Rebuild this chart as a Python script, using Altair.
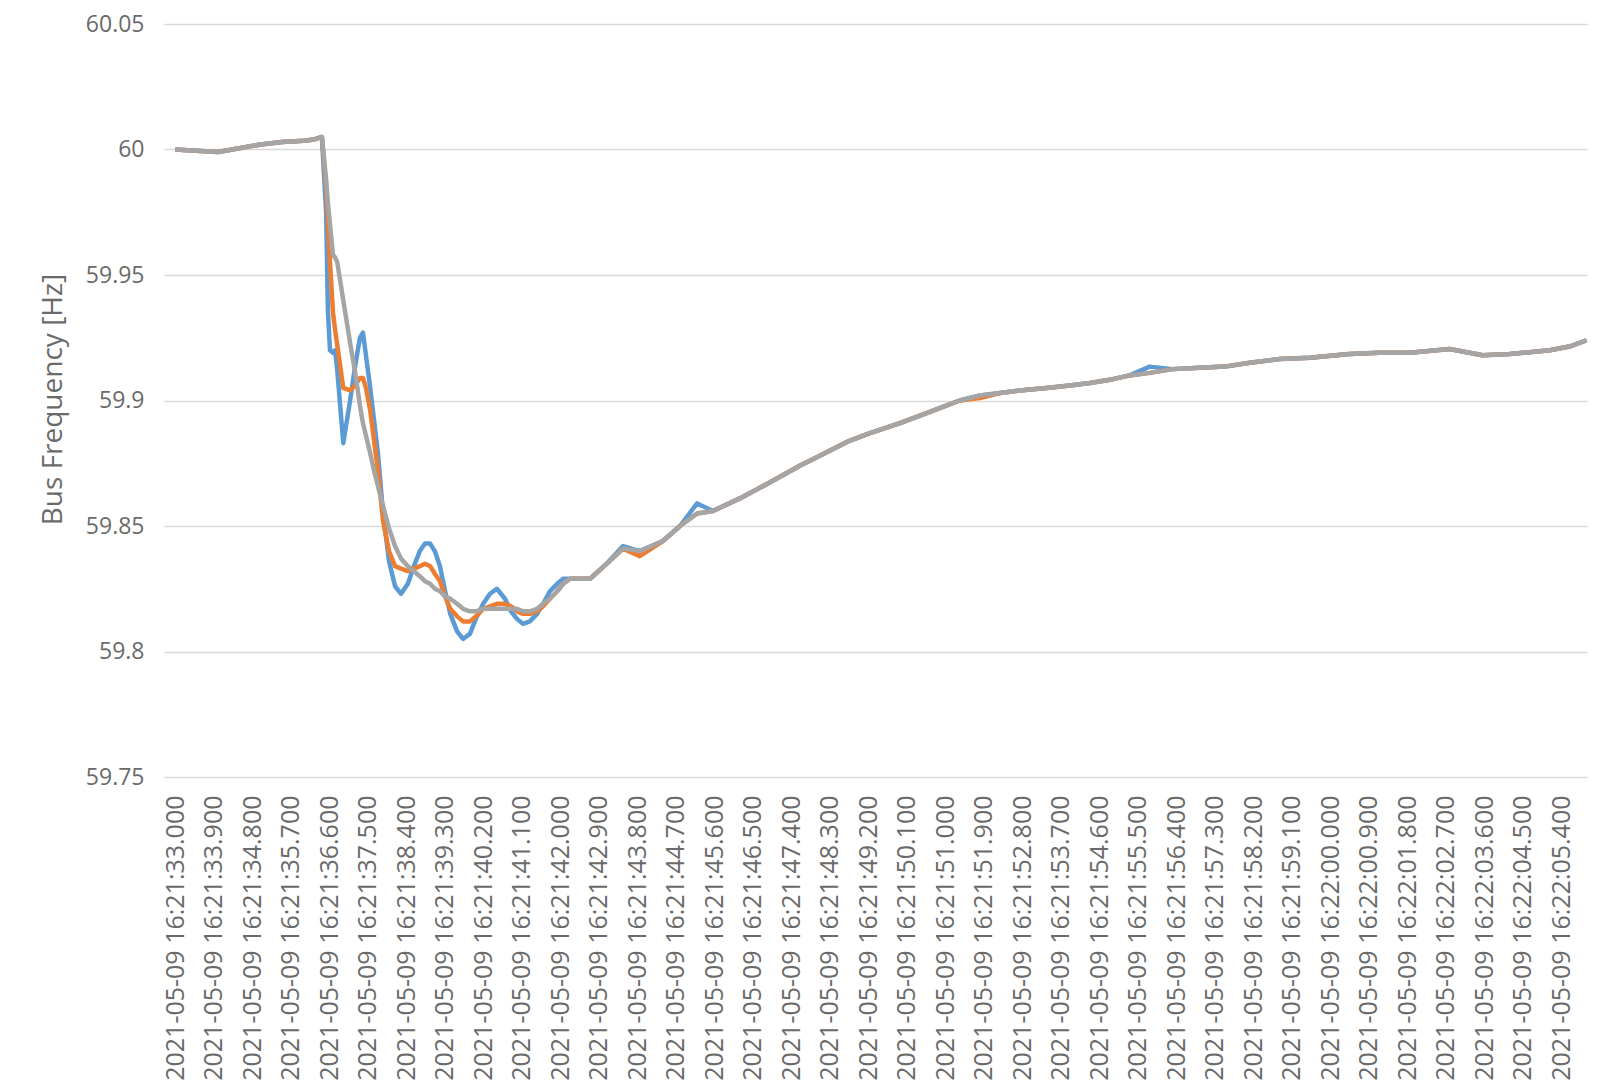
import altair as alt
import pandas as pd

# seconds after 2021-05-09 16:21:33.000
t = [0, 0.5, 1.0, 1.5, 2.0, 2.5, 3.0, 3.25, 3.43,
     3.53, 3.57, 3.62, 3.69, 3.74, 3.79, 3.93, 4.09, 4.21, 4.32,
     4.39, 4.46, 4.56, 4.65, 4.74, 4.86, 5.00, 5.14, 5.28, 5.44,
     5.58, 5.72, 5.84, 5.96, 6.07, 6.19, 6.31, 6.43, 6.59, 6.73,
     6.89, 7.03, 7.20, 7.36, 7.52, 7.71, 7.85, 7.99, 8.13, 8.29,
     8.46, 8.60, 8.76, 8.93, 9.07,
     9.23, 9.70, 10.09, 10.47, 10.86, 11.40, 11.80, 12.20, 12.57, 13.20,
     13.97, 14.60, 15.07, 15.70, 16.24, 16.94, 17.41, 17.87, 18.34, 18.81,
     19.28, 19.74, 20.37, 20.91, 21.38, 21.92, 22.31, 22.78, 23.32, 23.95,
     24.53, 25.12, 25.82, 26.52, 27.45, 28.15, 28.86, 29.79, 30.56, 31.19,
     32.13, 32.59, 32.99]

gray = [60.0, 59.9995, 59.999, 60.0005, 60.002, 60.003, 60.0035, 60.004, 60.005,
        59.988, 59.979, 59.970, 59.958, 59.957, 59.955, 59.940, 59.923, 59.911, 59.898,
        59.891, 59.886, 59.879, 59.872, 59.866, 59.858, 59.849, 59.842, 59.837, 59.834,
        59.832, 59.830, 59.828, 59.827, 59.825, 59.824, 59.822, 59.821, 59.819, 59.817,
        59.816, 59.816, 59.817, 59.817, 59.817, 59.817, 59.817, 59.817, 59.816, 59.816,
        59.817, 59.819, 59.821, 59.824, 59.827,
        59.829, 59.829, 59.835, 59.841, 59.840, 59.844, 59.850, 59.855, 59.856, 59.861,
        59.868, 59.874, 59.878, 59.8835, 59.887, 59.891, 59.894, 59.897, 59.900, 59.902,
        59.903, 59.904, 59.905, 59.906, 59.907, 59.9085, 59.910, 59.911, 59.9125, 59.913,
        59.9135, 59.915, 59.9165, 59.917, 59.9185, 59.919, 59.919, 59.9205, 59.918, 59.9185,
        59.920, 59.9215, 59.924]

orange = [60.0, 59.9995, 59.999, 60.0005, 60.002, 60.003, 60.0035, 60.004, 60.005,
          59.985, 59.971, 59.955, 59.935, 59.928, 59.922, 59.905, 59.904, 59.906, 59.909,
          59.909, 59.905, 59.896, 59.884, 59.872, 59.852, 59.840, 59.834, 59.833, 59.832,
          59.833, 59.834, 59.835, 59.834, 59.831, 59.828, 59.822, 59.817, 59.814, 59.812,
          59.812, 59.814, 59.817, 59.818, 59.819, 59.819, 59.818, 59.816, 59.815, 59.815,
          59.816, 59.818, 59.821, 59.824, 59.827,
          59.829, 59.829, 59.835, 59.841, 59.838, 59.844, 59.850, 59.855, 59.856, 59.861,
          59.868, 59.874, 59.878, 59.8835, 59.887, 59.891, 59.894, 59.897, 59.900, 59.901,
          59.903, 59.904, 59.905, 59.906, 59.907, 59.9085, 59.910, 59.911, 59.9125, 59.913,
          59.9135, 59.915, 59.9165, 59.917, 59.9185, 59.919, 59.919, 59.9205, 59.918, 59.9185,
          59.920, 59.9215, 59.924]

blue = [60.0, 59.9995, 59.999, 60.0005, 60.002, 60.003, 60.0035, 60.004, 60.005,
        59.975, 59.936, 59.920, 59.919, 59.920, 59.912, 59.883, 59.900, 59.914, 59.925,
        59.927, 59.918, 59.905, 59.892, 59.879, 59.855, 59.836, 59.826, 59.823, 59.827,
        59.834, 59.840, 59.843, 59.843, 59.840, 59.834, 59.824, 59.815, 59.808, 59.805,
        59.807, 59.813, 59.819, 59.823, 59.825, 59.821, 59.816, 59.813, 59.811, 59.812,
        59.815, 59.819, 59.824, 59.827, 59.829,
        59.829, 59.829, 59.835, 59.842, 59.840, 59.844, 59.850, 59.859, 59.856, 59.861,
        59.868, 59.874, 59.878, 59.8835, 59.887, 59.891, 59.894, 59.897, 59.900, 59.902,
        59.903, 59.904, 59.905, 59.906, 59.907, 59.9085, 59.910, 59.9135, 59.9125, 59.913,
        59.9135, 59.915, 59.9165, 59.917, 59.9185, 59.919, 59.919, 59.9205, 59.918, 59.9185,
        59.920, 59.9215, 59.924]

tick_labels = [
    "2021-05-09 16:21:33.000", "2021-05-09 16:21:33.900", "2021-05-09 16:21:34.800",
    "2021-05-09 16:21:35.700", "2021-05-09 16:21:36.600", "2021-05-09 16:21:37.500",
    "2021-05-09 16:21:38.400", "2021-05-09 16:21:39.300", "2021-05-09 16:21:40.200",
    "2021-05-09 16:21:41.100", "2021-05-09 16:21:42.000", "2021-05-09 16:21:42.900",
    "2021-05-09 16:21:43.800", "2021-05-09 16:21:44.700", "2021-05-09 16:21:45.600",
    "2021-05-09 16:21:46.500", "2021-05-09 16:21:47.400", "2021-05-09 16:21:48.300",
    "2021-05-09 16:21:49.200", "2021-05-09 16:21:50.100", "2021-05-09 16:21:51.000",
    "2021-05-09 16:21:51.900", "2021-05-09 16:21:52.800", "2021-05-09 16:21:53.700",
    "2021-05-09 16:21:54.600", "2021-05-09 16:21:55.500", "2021-05-09 16:21:56.400",
    "2021-05-09 16:21:57.300", "2021-05-09 16:21:58.200", "2021-05-09 16:21:59.100",
    "2021-05-09 16:22:00.000", "2021-05-09 16:22:00.900", "2021-05-09 16:22:01.800",
    "2021-05-09 16:22:02.700", "2021-05-09 16:22:03.600", "2021-05-09 16:22:04.500",
    "2021-05-09 16:22:05.400",
]
y_ticks = [59.75, 59.8, 59.85, 59.9, 59.95, 60.0, 60.05]

step = 0.9
x_ticks = [round(step * i, 1) for i in range(len(tick_labels))]
label_expr = "[" + ",".join("'" + s + "'" for s in tick_labels) + "][round(datum.value / 0.9)]"

df = pd.DataFrame({"t": t, "blue": blue, "orange": orange, "gray": gray})

FONT = "Open Sans"
TXT = "#6a6a6a"

x_enc = alt.X(
    "t:Q",
    scale=alt.Scale(domain=[-0.26, 33.0], nice=False, zero=False),
    axis=alt.Axis(values=x_ticks, labelExpr=label_expr, labelAngle=270,
                  labelFont=FONT, labelFontSize=25, labelColor=TXT,
                  labelPadding=18, labelOverlap=False, labelBound=False,
                  labelLimit=0, labelFlush=False,
                  ticks=False, domain=False, grid=False, title=None),
)
y_scale = alt.Scale(domain=[59.75, 60.05], nice=False, zero=False)
y_axis = alt.Axis(values=y_ticks, format="~g", labelFont=FONT, labelFontSize=23,
                  labelColor=TXT, labelPadding=20, ticks=False, domain=False,
                  labelFlush=False, labelBound=False,
                  grid=True, gridColor="#d9d9d9", gridWidth=1.3,
                  title="Bus Frequency [Hz]", titleFont=FONT, titleFontSize=28,
                  titleFontWeight="normal", titleColor=TXT, titleAngle=270,
                  titleX=-111, titleY=375, titleAlign="center", titleBaseline="middle")

layers = []
for name, color in [("blue", "#5B9BD5"), ("orange", "#ED7D31"), ("gray", "#A5A5A5")]:
    layers.append(
        alt.Chart(df).mark_line(strokeWidth=4.5, color=color, strokeJoin="round").encode(
            x=x_enc,
            y=alt.Y(f"{name}:Q", scale=y_scale, axis=y_axis),
        )
    )

chart = alt.layer(*layers).properties(
    width=1423, height=753,
    autosize=alt.AutoSizeParams(type="none"),
    padding={"left": 156, "top": 16, "right": 5, "bottom": 306},
    background="white",
).configure_view(stroke=None)

chart.save("out.html", embed_options={"renderer": "svg", "actions": False})
